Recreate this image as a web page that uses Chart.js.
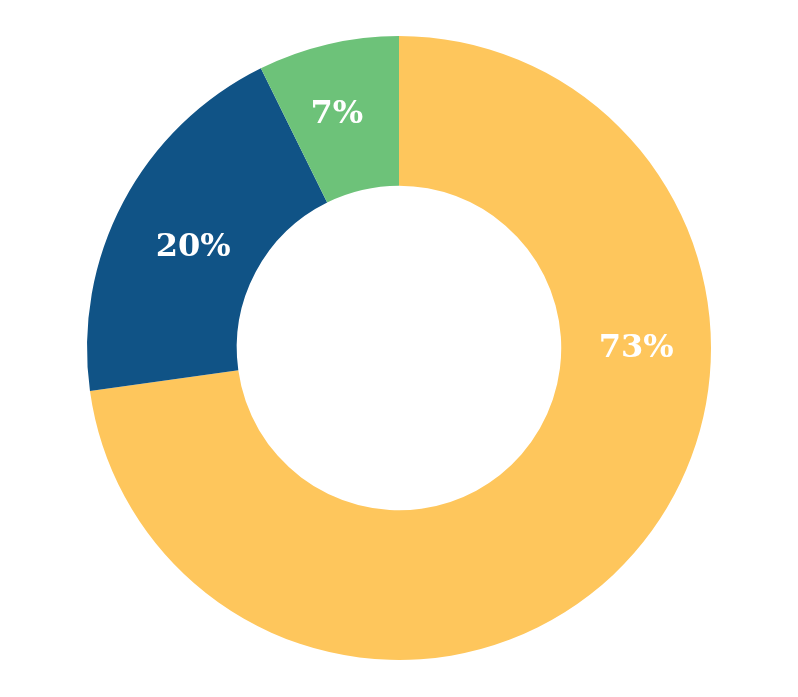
<!DOCTYPE html>
<html>
<head>
<meta charset="utf-8">
<script src="https://cdn.jsdelivr.net/npm/chart.js@4"></script>
<style>
  html, body { margin: 0; padding: 0; background: #ffffff; }
  #wrap { width: 798px; height: 697px; }
</style>
</head>
<body>
<div id="wrap"><canvas id="c" width="798" height="697"></canvas></div>
<script>
const categories = ['A', 'B', 'C'];
const values = [72.8, 19.9, 7.3];
const labelsText = ['73%', '20%', '7%'];
const colors = ['#FEC65C', '#105386', '#6DC279'];

const labelPlugin = {
  id: 'sliceLabels',
  afterDatasetsDraw(chart) {
    const ctx = chart.ctx;
    const meta = chart.getDatasetMeta(0);
    ctx.save();
    ctx.fillStyle = '#ffffff';
    ctx.font = 'bold 32px "DejaVu Serif"';
    ctx.textAlign = 'center';
    ctx.textBaseline = 'middle';
    meta.data.forEach((arc, i) => {
      const p = arc.getProps(['x', 'y', 'startAngle', 'endAngle', 'innerRadius', 'outerRadius'], true);
      const span = p.endAngle - p.startAngle;
      const R = p.outerRadius, r0 = p.innerRadius;
      let ang, r;
      if (span > Math.PI) {
        ang = p.startAngle + Math.PI / 2;
        r = (R + r0) / 2;
      } else {
        ang = (p.startAngle + p.endAngle) / 2 - 0.03;
        const half = span / 2;
        r = (2 / 3) * (R * R * R - r0 * r0 * r0) / (R * R - r0 * r0) * Math.sin(half) / half;
      }
      ctx.fillText(labelsText[i], p.x + Math.cos(ang) * r, p.y + Math.sin(ang) * r + 1);
    });
    ctx.restore();
  }
};

new Chart(document.getElementById('c'), {
  type: 'doughnut',
  data: {
    labels: categories,
    datasets: [{
      data: values,
      backgroundColor: colors,
      borderWidth: 0
    }]
  },
  options: {
    responsive: false,
    animation: false,
    cutout: '52%',
    layout: { padding: { top: 36, bottom: 37, left: 0, right: 0 } },
    plugins: {
      legend: { display: false },
      tooltip: { enabled: false }
    }
  },
  plugins: [labelPlugin]
});
</script>
</body>
</html>
